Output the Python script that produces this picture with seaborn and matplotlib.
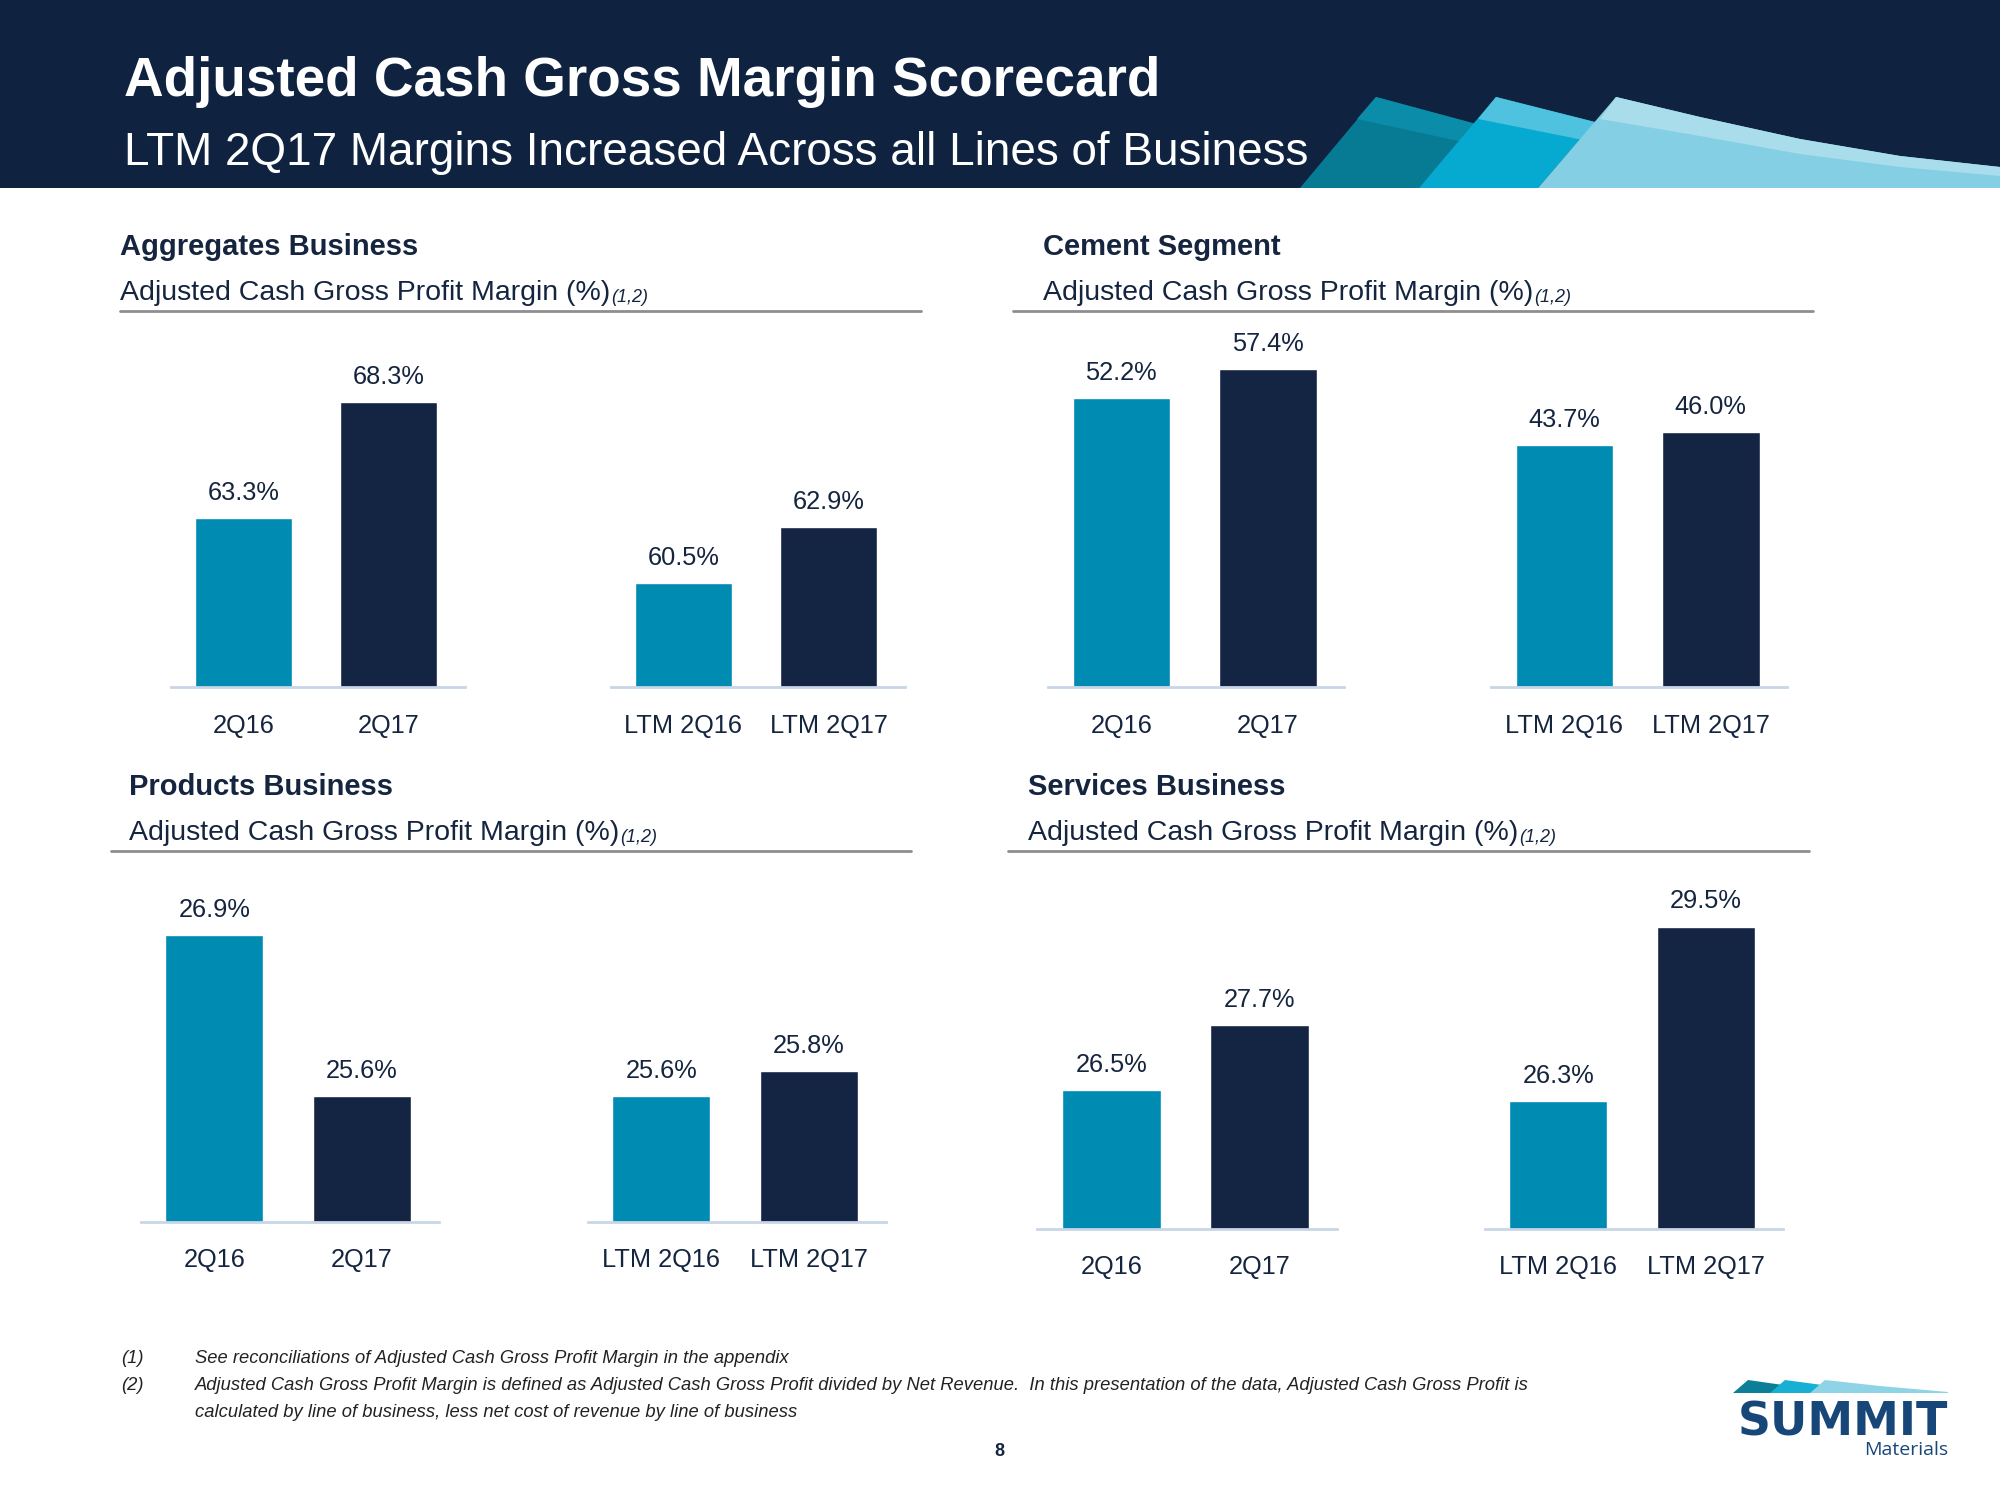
import matplotlib
matplotlib.use("Agg")
import matplotlib.pyplot as plt
import seaborn as sns
from matplotlib.patches import Polygon, Rectangle

# data
qtr_labels = ["2Q16", "2Q17"]
ltm_labels = ["LTM 2Q16", "LTM 2Q17"]

agg_qtr = [63.3, 68.3]
agg_ltm = [60.5, 62.9]
cem_qtr = [52.2, 57.4]
cem_ltm = [43.7, 46.0]
prd_qtr = [26.9, 25.6]
prd_ltm = [25.6, 25.8]
svc_qtr = [26.5, 27.7]
svc_ltm = [26.3, 29.5]

TEAL = "#008BB2"
NAVY = "#142543"
HEAD = "#0F2341"
TXT = "#15253F"
BASE = "#C9D6E6"

sns.set_theme(style="white")
plt.rcParams["font.family"] = ["Liberation Sans", "DejaVu Sans"]

W, H = 2000, 1500
fig = plt.figure(figsize=(20, 15), dpi=100)

# overlay in pixel coordinates for the slide decoration
bg = fig.add_axes([0, 0, 1, 1], zorder=0)
bg.set_xlim(0, W)
bg.set_ylim(H, 0)
bg.axis("off")

bg.add_patch(Rectangle((0, 0), W, 187.5, color=HEAD, lw=0))
# header swooshes
bg.add_patch(Polygon([(1300, 188), (1376, 97), (1476, 124), (1419, 188)], color="#077B94", lw=0))
bg.add_patch(Polygon([(1376, 97), (1476, 124), (1463, 142), (1357, 119)], color="#0B8CA8", lw=0))
bg.add_patch(Polygon([(1419, 188), (1496, 97), (1595, 122), (1538, 188)], color="#06A9CF", lw=0))
bg.add_patch(Polygon([(1496, 97), (1595, 122), (1583, 140), (1478, 119)], color="#4EC2DE", lw=0))
bg.add_patch(Polygon([(1538, 188), (1616, 97), (1700, 117), (1800, 139), (1900, 156),
                      (2000, 167), (2000, 188)], color="#84CFE3", lw=0))
bg.add_patch(Polygon([(1616, 97), (1700, 117), (1800, 139), (1900, 156), (2000, 167),
                      (2000, 176), (1900, 167), (1800, 154), (1700, 136), (1600, 119)],
                     color="#A9DDEB", lw=0))

bg.text(124, 96, "Adjusted Cash Gross Margin Scorecard", color="white",
        fontsize=39.5, fontweight="bold", va="baseline")
bg.text(124, 165, "LTM 2Q17 Margins Increased Across all Lines of Business", color="white",
        fontsize=33, va="baseline")


def panel_header(x, y, rule_x0, rule_x1, title):
    bg.text(x, y, title, color=TXT, fontsize=21, fontweight="bold", va="baseline")
    sub = bg.text(x, y + 45, "Adjusted Cash Gross Profit Margin (%)", color=TXT,
                  fontsize=20.5, va="baseline")
    bg.annotate("(1,2)", xy=(1, 0), xycoords=sub, xytext=(1, 0), textcoords="offset points",
                va="bottom", ha="left", fontsize=13, style="italic", color=TXT)
    bg.plot([rule_x0, rule_x1], [y + 56, y + 56], color="#8E8E8E", lw=2)


panel_header(120, 255, 120, 921, "Aggregates Business")
panel_header(1043, 255, 1013, 1813, "Cement Segment")
panel_header(129, 795, 111, 911, "Products Business")
panel_header(1028, 795, 1008, 1809, "Services Business")


def bar_group(c1, c2, base_y, labels, values, lo, px_per_pt):
    sp = c2 - c1
    x0 = c1 - 0.5 * sp
    height = 400
    ax = fig.add_axes([x0 / W, 1 - base_y / H, 2 * sp / W, height / H], zorder=2)
    ax.patch.set_alpha(0)
    sns.barplot(x=labels, y=values, hue=labels, palette=[TEAL, NAVY], width=0.665,
                legend=False, ax=ax, saturation=1)
    ax.set_xlim(-0.5, 1.52)
    ax.set_ylim(lo, lo + height / px_per_pt)
    for s in ["left", "right", "top"]:
        ax.spines[s].set_visible(False)
    ax.spines["bottom"].set_color(BASE)
    ax.spines["bottom"].set_linewidth(2)
    ax.set_yticks([])
    ax.set_xlabel("")
    ax.set_ylabel("")
    ax.tick_params(axis="x", length=0, pad=19, labelsize=18.3, labelcolor=TXT)
    for i, v in enumerate(values):
        ax.annotate(f"{v:.1f}%", xy=(i, v), xytext=(0, 13), textcoords="offset points",
                    ha="center", va="baseline", fontsize=18.3, color=TXT)
    return ax


bar_group(244, 391, 687.5, qtr_labels, agg_qtr, 56.0, 23.2)
bar_group(684, 831, 687.5, ltm_labels, agg_ltm, 56.0, 23.2)
bar_group(1122, 1270, 687.5, qtr_labels, cem_qtr, 0.0, 5.55)
bar_group(1565, 1713, 687.5, ltm_labels, cem_ltm, 0.0, 5.55)
bar_group(215, 364, 1222, qtr_labels, prd_qtr, 24.58, 123.5)
bar_group(662, 811, 1222, ltm_labels, prd_ltm, 24.58, 123.5)
bar_group(1112, 1262, 1229, qtr_labels, svc_qtr, 23.95, 54.5)
bar_group(1559, 1708, 1229, ltm_labels, svc_ltm, 23.95, 54.5)

# footnotes
notes = [
    ("(1)", "See reconciliations of Adjusted Cash Gross Profit Margin in the appendix", 1363),
    ("(2)", "Adjusted Cash Gross Profit Margin is defined as Adjusted Cash Gross Profit divided by "
            "Net Revenue.  In this presentation of the data, Adjusted Cash Gross Profit is", 1390),
    ("", "calculated by line of business, less net cost of revenue by line of business", 1417),
]
for num, line, y in notes:
    if num:
        bg.text(121, y, num, fontsize=13.2, style="italic", color="#222222", va="baseline")
    bg.text(195, y, line, fontsize=13.2, style="italic", color="#222222", va="baseline")

bg.text(999, 1456, "8", fontsize=13, fontweight="bold", color=TXT, ha="center", va="baseline")

# logo
bg.add_patch(Polygon([(1733, 1393), (1748, 1380), (1790, 1386), (1778, 1393)], color="#0B7E98", lw=0))
bg.add_patch(Polygon([(1770, 1393), (1785, 1380), (1830, 1386), (1818, 1393)], color="#17AFD3", lw=0))
bg.add_patch(Polygon([(1810, 1393), (1825, 1380), (1880, 1386), (1948, 1392), (1948, 1393)],
                     color="#8ED3E6", lw=0))
bg.text(1948, 1435, "SUMMIT", fontsize=33, fontweight="heavy", color="#174779", ha="right",
        va="baseline", family="DejaVu Sans")
bg.text(1948, 1455, "Materials", fontsize=14, color="#174779", ha="right", va="baseline",
        family="Open Sans")

fig.savefig("out.png", dpi=100)
